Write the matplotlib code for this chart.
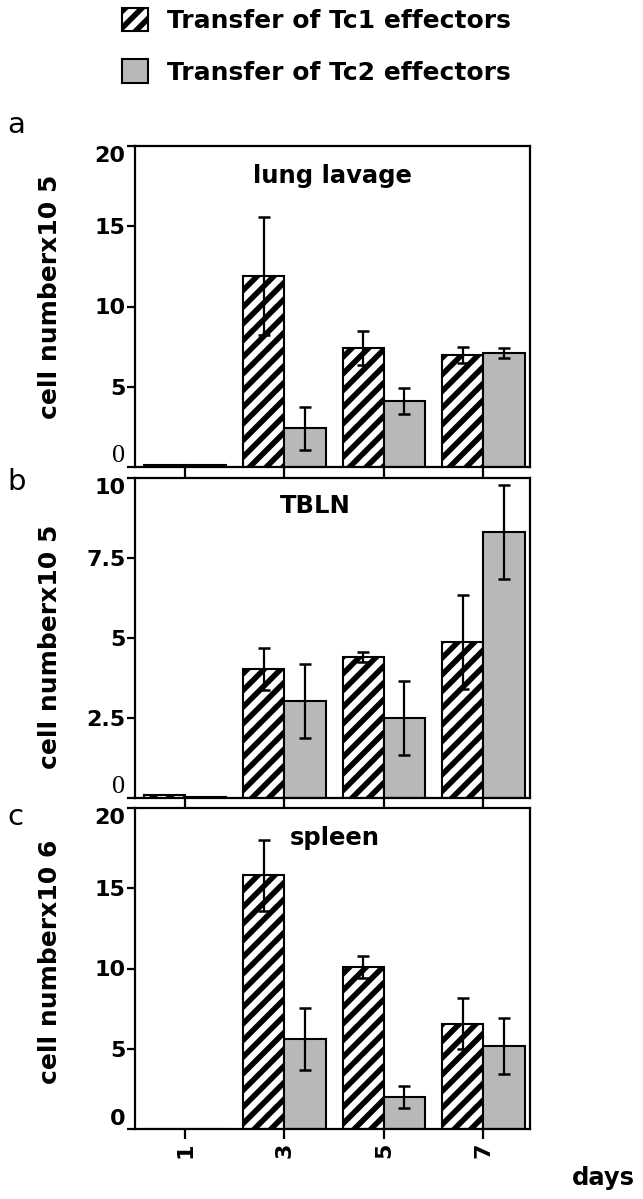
import matplotlib
matplotlib.use('Agg')
import matplotlib.pyplot as plt
import numpy as np

plt.rcParams['font.family'] = ['DejaVu Sans']
plt.rcParams['hatch.linewidth'] = 4.0

# data
days = ['1', '3', '5', '7']

lung_tc1 = [0.1, 11.9, 7.4, 7.0]
lung_tc1_err = [0, 3.7, 1.05, 0.5]
lung_tc2 = [0.1, 2.4, 4.1, 7.1]
lung_tc2_err = [0, 1.35, 0.8, 0.3]

tbln_tc1 = [0.08, 4.03, 4.4, 4.87]
tbln_tc1_err = [0, 0.67, 0.15, 1.47]
tbln_tc2 = [0.04, 3.03, 2.5, 8.3]
tbln_tc2_err = [0, 1.17, 1.15, 1.47]

spleen_tc1 = [0, 15.8, 10.1, 6.56]
spleen_tc1_err = [0, 2.2, 0.7, 1.6]
spleen_tc2 = [0, 5.6, 2.0, 5.15]
spleen_tc2_err = [0, 1.95, 0.7, 1.75]

panels = {}
panels['a'] = {'title': 'lung lavage', 'tc1': lung_tc1, 'tc1e': lung_tc1_err, 'tc2': lung_tc2, 'tc2e': lung_tc2_err,
               'ymax': 20, 'yticks': [0, 5, 10, 15, 20], 'yticklabels': ['0', '5', '10', '15', '20'],
               'ylabel': 'cell numberx10 5', 'top': 146, 'bottom': 467, 'title_xy': (332, 183), 'lab_y': 133, 'ylab_y': 297}
panels['b'] = {'title': 'TBLN', 'tc1': tbln_tc1, 'tc1e': tbln_tc1_err, 'tc2': tbln_tc2, 'tc2e': tbln_tc2_err,
               'ymax': 10, 'yticks': [0, 2.5, 5, 7.5, 10], 'yticklabels': ['0', '2.5', '5', '7.5', '10'],
               'ylabel': 'cell numberx10 5', 'top': 478, 'bottom': 798, 'title_xy': (315, 513), 'lab_y': 490, 'ylab_y': 647}
panels['c'] = {'title': 'spleen', 'tc1': spleen_tc1, 'tc1e': spleen_tc1_err, 'tc2': spleen_tc2, 'tc2e': spleen_tc2_err,
               'ymax': 20, 'yticks': [0, 5, 10, 15, 20], 'yticklabels': ['0', '5', '10', '15', '20'],
               'ylabel': 'cell numberx10 6', 'top': 808, 'bottom': 1129, 'title_xy': (335, 845), 'lab_y': 825, 'ylab_y': 962}

W, H = 643, 1199
fig = plt.figure(figsize=(W / 100, H / 100), dpi=100)

x = np.arange(len(days))
w = 0.415
left_px, right_px = 135, 530
gray = '#b8b8b8'

for key in ['a', 'b', 'c']:
    P = panels[key]
    ax = fig.add_axes([left_px / W, 1 - P['bottom'] / H, (right_px - left_px) / W, (P['bottom'] - P['top']) / H])
    b1 = ax.bar(x - w / 2, P['tc1'], w, color='white', edgecolor='black', hatch='//', linewidth=1.5, zorder=2,
                label='Transfer of Tc1 effectors')
    b2 = ax.bar(x + w / 2, P['tc2'], w, color=gray, edgecolor='black', linewidth=1.5, zorder=2,
                label='Transfer of Tc2 effectors')
    m = np.array(P['tc1e']) > 0
    ax.errorbar((x - w / 2)[m], np.array(P['tc1'])[m], yerr=np.array(P['tc1e'])[m], fmt='none',
                ecolor='black', elinewidth=1.6, capsize=4, capthick=1.8, zorder=3)
    m = np.array(P['tc2e']) > 0
    ax.errorbar((x + w / 2)[m], np.array(P['tc2'])[m], yerr=np.array(P['tc2e'])[m], fmt='none',
                ecolor='black', elinewidth=1.6, capsize=4, capthick=1.8, zorder=3)
    ax.set_xlim(-0.503, 3.47)
    ax.set_ylim(0, P['ymax'])
    ax.set_yticks(P['yticks'])
    ax.set_yticklabels(P['yticklabels'], fontsize=16, fontweight='bold')
    ax.set_xticks(x)
    for s in ax.spines.values():
        s.set_linewidth(1.6)
    ax.tick_params(axis='y', direction='out', length=6, width=1.6, pad=1)
    ax.tick_params(axis='x', direction='out', length=7.5, width=1.6, pad=2)
    ylabs = ax.get_yticklabels()
    ylabs[0].set_verticalalignment('bottom')
    ylabs[-1].set_verticalalignment('top')
    if key == 'c':
        ax.set_xticklabels(days, rotation=90, fontsize=16, fontweight='bold')
    else:
        ax.set_xticklabels([])
        # zero label is set in a plain serif face in a and b
        ylabs[0].set_fontfamily('Liberation Serif')
        ylabs[0].set_fontweight('normal')
        ylabs[0].set_fontsize(19)
    fig.text(P['title_xy'][0] / W, 1 - P['title_xy'][1] / H, P['title'], fontsize=17.5, fontweight='bold',
             ha='center', va='baseline')
    fig.text(7 / W, 1 - P['lab_y'] / H, key, fontsize=21, ha='left', va='baseline')
    fig.text(50 / W, 1 - P['ylab_y'] / H, P['ylabel'], fontsize=18, fontweight='bold', rotation=90,
             ha='center', va='center')

fig.text(572 / W, 1 - 1185 / H, 'days', fontsize=17.5, fontweight='bold', ha='left', va='baseline')

fig.legend(handles=[b1, b2], loc='upper left', bbox_to_anchor=(122 / W, 1 - 8 / H), frameon=False,
           prop={'size': 18, 'weight': 'bold'}, handlelength=1.05, handleheight=1.05,
           handletextpad=0.75, labelspacing=1.05, borderpad=0, borderaxespad=0)

plt.savefig('out.png', dpi=100)
